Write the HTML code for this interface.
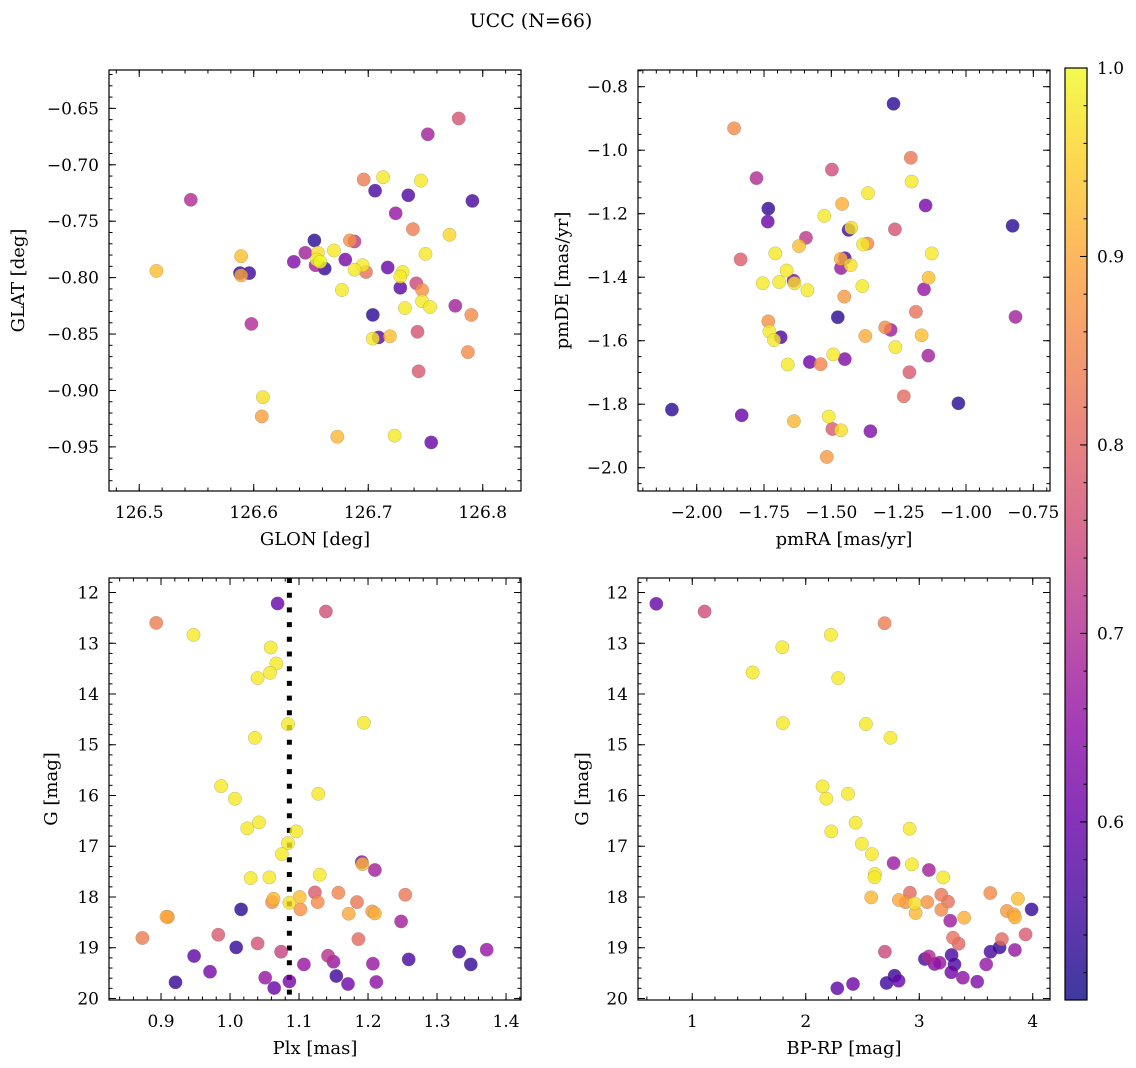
<!DOCTYPE html>
<html><head><meta charset="utf-8">
<style>
html,body{margin:0;padding:0;background:#fff;}
svg{display:block;font-family:"DejaVu Serif","Liberation Serif",serif;}
</style></head>
<body>
<svg id="fig" width="1136" height="1068" viewBox="0 0 1136 1068" xmlns="http://www.w3.org/2000/svg">
<text x="531" y="27" font-size="19" text-anchor="middle">UCC (N=66)</text>
</svg>
<script>
// ---------- Panel 1: GLON vs GLAT ----------
const p1GLON=[126.779,126.752,126.696,126.713,126.746,126.706,126.735,126.791,126.545,126.724,126.739,126.771,126.653,126.684,126.688,126.645,126.656,126.670,126.750,126.589,126.635,126.680,126.654,126.662,126.655,126.658,126.695,126.688,126.698,126.717,126.730,126.728,126.515,126.588,126.596,126.589,126.742,126.747,126.728,126.677,126.747,126.732,126.754,126.776,126.790,126.704,126.598,126.743,126.709,126.704,126.719,126.787,126.744,126.608,126.607,126.673,126.723,126.755];
const p1GLAT=[-0.659,-0.673,-0.713,-0.711,-0.714,-0.723,-0.727,-0.732,-0.731,-0.743,-0.757,-0.762,-0.767,-0.767,-0.768,-0.778,-0.778,-0.776,-0.779,-0.781,-0.786,-0.784,-0.789,-0.792,-0.784,-0.786,-0.789,-0.793,-0.795,-0.791,-0.795,-0.799,-0.794,-0.796,-0.796,-0.798,-0.805,-0.811,-0.809,-0.811,-0.821,-0.827,-0.826,-0.825,-0.833,-0.833,-0.841,-0.848,-0.853,-0.854,-0.852,-0.866,-0.883,-0.906,-0.923,-0.941,-0.940,-0.946];
const p1Prob=[0.77,0.68,0.84,0.98,0.98,0.56,0.57,0.56,0.70,0.66,0.84,0.96,0.53,0.87,0.72,0.68,0.97,0.98,0.98,0.93,0.63,0.62,0.68,0.54,0.99,1.0,0.98,0.98,0.82,0.60,0.98,0.98,0.93,0.53,0.55,0.90,0.75,0.87,0.58,0.98,0.98,0.98,0.98,0.68,0.86,0.53,0.70,0.77,0.58,0.98,0.93,0.86,0.78,0.97,0.89,0.92,0.98,0.60];
const p1XTicks=[126.5,126.6,126.7,126.8];
const p1XTickLabels=["126.5","126.6","126.7","126.8"];
const p1YTicks=[-0.65,-0.70,-0.75,-0.80,-0.85,-0.90,-0.95];
const p1YTickLabels=["\u22120.65","\u22120.70","\u22120.75","\u22120.80","\u22120.85","\u22120.90","\u22120.95"];

// ---------- Panel 2: pmRA vs pmDE ----------
const p2pmRA=[-1.269,-1.861,-1.205,-1.498,-1.778,-1.202,-1.364,-1.460,-1.150,-1.734,-1.526,-1.736,-0.827,-1.436,-1.426,-1.264,-1.594,-1.620,-1.366,-1.382,-1.127,-1.708,-1.837,-1.450,-1.465,-1.464,-1.428,-1.666,-1.139,-1.755,-1.694,-1.640,-1.637,-1.589,-1.385,-1.156,-1.452,-1.186,-0.816,-1.476,-1.734,-1.280,-1.300,-1.730,-1.688,-1.713,-1.374,-1.165,-1.262,-1.493,-1.450,-1.140,-1.580,-1.540,-1.662,-1.210,-1.231,-1.028,-2.092,-1.833,-1.510,-1.639,-1.496,-1.464,-1.355,-1.517];
const p2pmDE=[-0.854,-0.931,-1.024,-1.061,-1.088,-1.099,-1.135,-1.169,-1.174,-1.184,-1.207,-1.225,-1.238,-1.251,-1.244,-1.249,-1.276,-1.302,-1.294,-1.297,-1.325,-1.325,-1.344,-1.340,-1.342,-1.371,-1.362,-1.379,-1.402,-1.419,-1.415,-1.411,-1.419,-1.441,-1.428,-1.438,-1.461,-1.509,-1.525,-1.526,-1.539,-1.566,-1.558,-1.571,-1.589,-1.598,-1.585,-1.583,-1.620,-1.643,-1.658,-1.647,-1.667,-1.674,-1.675,-1.699,-1.775,-1.797,-1.817,-1.835,-1.839,-1.853,-1.878,-1.882,-1.885,-1.966];
const p2Prob=[0.53,0.86,0.83,0.76,0.70,0.98,0.98,0.91,0.62,0.54,0.98,0.60,0.53,0.55,0.97,0.77,0.72,0.93,0.85,0.98,0.98,0.98,0.79,0.57,0.91,0.66,0.97,0.98,0.93,0.98,0.98,0.62,0.97,0.98,0.98,0.66,0.88,0.82,0.68,0.53,0.87,0.67,0.86,0.98,0.57,0.98,0.91,0.93,0.98,0.98,0.63,0.68,0.61,0.85,0.98,0.78,0.81,0.53,0.53,0.60,0.98,0.92,0.78,0.97,0.63,0.88];
const p2XTicks=[-2.0,-1.75,-1.5,-1.25,-1.0,-0.75];
const p2XTickLabels=["\u22122.00","\u22121.75","\u22121.50","\u22121.25","\u22121.00","\u22120.75"];
const p2YTicks=[-0.8,-1.0,-1.2,-1.4,-1.6,-1.8,-2.0];
const p2YTickLabels=["\u22120.8","\u22121.0","\u22121.2","\u22121.4","\u22121.6","\u22121.8","\u22122.0"];

// ---------- Panel 3: Plx vs G ----------
const p3Plx=[1.069,1.139,0.893,0.947,1.059,1.067,1.058,1.040,1.084,1.194,1.036,0.987,1.007,1.128,1.042,1.025,1.096,1.084,1.075,1.191,1.192,1.210,1.030,1.057,1.130,1.123,1.157,1.254,1.101,1.063,1.061,1.086,1.127,1.184,1.102,1.172,1.206,1.210,0.908,0.910,1.016,1.248,0.873,0.983,1.040,1.186,1.009,1.074,1.142,1.150,0.948,1.107,1.207,1.259,1.332,1.349,1.372,0.971,1.051,1.154,0.921,1.086,1.171,1.212,1.064];
const p3G=[12.217,12.374,12.598,12.834,13.083,13.399,13.582,13.687,14.594,14.567,14.863,15.815,16.064,15.966,16.531,16.649,16.708,16.938,17.154,17.312,17.351,17.469,17.627,17.614,17.561,17.909,17.916,17.955,18.001,18.034,18.100,18.113,18.100,18.100,18.244,18.330,18.284,18.323,18.389,18.395,18.244,18.481,18.809,18.743,18.914,18.829,18.993,19.078,19.157,19.275,19.163,19.328,19.315,19.229,19.078,19.328,19.039,19.472,19.590,19.557,19.682,19.663,19.715,19.676,19.794];
const p3Prob=[0.60,0.76,0.84,0.98,0.98,0.98,0.98,0.98,0.98,0.98,0.98,0.98,0.98,0.98,0.98,0.98,0.98,0.98,0.98,0.63,0.92,0.68,0.98,0.98,0.98,0.78,0.85,0.83,0.93,0.92,0.86,0.97,0.86,0.83,0.87,0.90,0.88,0.91,0.90,0.89,0.53,0.68,0.84,0.78,0.77,0.81,0.54,0.74,0.71,0.66,0.59,0.66,0.66,0.56,0.56,0.54,0.66,0.62,0.66,0.55,0.54,0.62,0.61,0.65,0.60];
const p3PlxMedian=1.086;
const p3XTicks=[0.9,1.0,1.1,1.2,1.3,1.4];
const p3XTickLabels=["0.9","1.0","1.1","1.2","1.3","1.4"];
const gTicks=[12,13,14,15,16,17,18,19,20];
const gTickLabels=["12","13","14","15","16","17","18","19","20"];

// ---------- Panel 4: BP-RP vs G ----------
const p4BPRP=[0.683,1.109,2.695,2.222,1.793,1.532,2.286,1.799,2.530,2.747,2.148,2.181,2.372,2.439,2.225,2.915,2.495,2.583,2.774,2.935,3.085,2.609,2.606,3.211,2.577,2.918,2.821,2.880,2.959,3.070,3.194,3.253,3.626,3.869,2.968,3.194,3.396,3.772,3.834,3.843,3.990,3.273,3.297,3.347,3.728,3.937,2.697,3.628,3.708,3.843,3.050,3.085,3.179,3.135,3.285,3.311,3.282,3.385,3.511,3.590,2.783,2.818,2.712,2.416,2.278];
const p4G=[12.223,12.374,12.604,12.834,13.077,13.576,13.687,14.574,14.594,14.863,15.821,16.064,15.966,16.537,16.708,16.655,16.951,17.154,17.332,17.358,17.469,17.548,17.614,17.614,18.008,17.916,18.060,18.100,18.126,18.100,17.955,18.093,17.922,18.034,18.316,18.251,18.408,18.277,18.343,18.402,18.244,18.468,18.802,18.921,18.829,18.737,19.078,19.078,18.993,19.045,19.222,19.170,19.295,19.321,19.144,19.328,19.485,19.590,19.669,19.328,19.551,19.649,19.695,19.715,19.800];
const p4Prob=[0.60,0.76,0.84,0.98,0.98,0.98,0.98,0.98,0.98,0.98,0.98,0.98,0.98,0.98,0.98,0.98,0.98,0.98,0.67,0.98,0.68,0.98,0.98,0.98,0.92,0.81,0.90,0.87,0.97,0.87,0.83,0.82,0.86,0.93,0.92,0.86,0.91,0.88,0.90,0.91,0.54,0.67,0.82,0.80,0.81,0.78,0.75,0.56,0.54,0.66,0.56,0.70,0.66,0.64,0.56,0.56,0.61,0.65,0.63,0.66,0.54,0.60,0.55,0.61,0.59];
const p4XTicks=[1,2,3,4];
const p4XTickLabels=["1","2","3","4"];

// ---------- Colorbar ----------
const cbTicks=[0.6,0.7,0.8,0.9,1.0];
const cbTickLabels=["0.6","0.7","0.8","0.9","1.0"];
const cbMin=0.5055, cbMax=1.0;

const NS="http://www.w3.org/2000/svg";
const svg=document.getElementById('fig');
const TICKFS=17, TITLEFS=18;
function mk(tag,attrs,parent){const e=document.createElementNS(NS,tag);for(const k in attrs)e.setAttribute(k,attrs[k]);(parent||svg).appendChild(e);return e;}
function lin(d0,d1,r0,r1){return v=>r0+(v-d0)/(d1-d0)*(r1-r0);}
const plasma=[[13,8,135],[65,4,157],[106,0,168],[143,13,164],[177,42,144],[204,71,120],[225,100,98],[242,132,75],[252,166,54],[252,206,37],[240,249,33]];
function cmap(p){let t=(p-cbMin)/(cbMax-cbMin);t=Math.max(0,Math.min(1,t))*10;const i=Math.min(9,Math.floor(t)),f=t-i;const a=plasma[i],b=plasma[i+1];return 'rgb('+a.map((c,k)=>Math.round(c+(b[k]-c)*f)).join(',')+')';}
function range(a,b,s){const r=[];for(let v=a;v<=b+1e-9;v+=s)r.push(+v.toFixed(6));return r;}

function panel(cfg){
  const g=mk('g',{});
  
  
  const b=cfg.box;
  const sx=lin(cfg.xlim[0],cfg.xlim[1],b.x0,b.x1);
  const sy=lin(cfg.ylim[0],cfg.ylim[1],b.y1,b.y0);
  const clipId=cfg.name+'-clip';
  const cp=mk('clipPath',{id:clipId},g);
  mk('rect',{x:b.x0,y:b.y0,width:b.x1-b.x0,height:b.y1-b.y0},cp);
  const pts=mk('g',{'clip-path':'url(#'+clipId+')'},g);
  
  
  if(cfg.vline!==undefined){
    const l=mk('line',{x1:sx(cfg.vline),x2:sx(cfg.vline),y1:b.y0,y2:b.y1,stroke:'#000','stroke-width':5,'stroke-dasharray':'5 9.7'},pts);
    
    
  }
  const idx=cfg.xs.map((_,i)=>i).sort((a,c)=>cfg.ps[a]-cfg.ps[c]);
  idx.forEach(i=>{
    const c=mk('circle',{cx:sx(cfg.xs[i]).toFixed(1),cy:sy(cfg.ys[i]).toFixed(1),r:6.7,fill:cmap(cfg.ps[i]),'fill-opacity':0.8,stroke:'#777','stroke-width':0.4,'stroke-opacity':0.6},pts);
    
    
  });
  const fr=mk('rect',{x:b.x0,y:b.y0,width:b.x1-b.x0,height:b.y1-b.y0,fill:'none',stroke:'#000','stroke-width':1.2},g);
  
  
  const tk=mk('g',{stroke:'#000','stroke-width':1},g);
  
  
  const inX=v=>{const x=sx(v);return x>=b.x0-0.5&&x<=b.x1+0.5;};
  const inY=v=>{const y=sy(v);return y>=b.y0-0.5&&y<=b.y1+0.5;};
  cfg.xminor.filter(inX).forEach(v=>{const x=sx(v);mk('line',{x1:x,x2:x,y1:b.y1,y2:b.y1-3.5},tk);mk('line',{x1:x,x2:x,y1:b.y0,y2:b.y0+3.5},tk);});
  cfg.yminor.filter(inY).forEach(v=>{const y=sy(v);mk('line',{x1:b.x0,x2:b.x0+3.5,y1:y,y2:y},tk);mk('line',{x1:b.x1,x2:b.x1-3.5,y1:y,y2:y},tk);});
  cfg.xticks.forEach((v,i)=>{const x=sx(v);mk('line',{x1:x,x2:x,y1:b.y1,y2:b.y1-7},tk);mk('line',{x1:x,x2:x,y1:b.y0,y2:b.y0+7},tk);
    const t=mk('text',{x:x,y:b.y1+27,'font-size':TICKFS,'text-anchor':'middle'},g);t.textContent=cfg.xlabels[i];
    
    });
  cfg.yticks.forEach((v,i)=>{const y=sy(v);mk('line',{x1:b.x0,x2:b.x0+7,y1:y,y2:y},tk);mk('line',{x1:b.x1,x2:b.x1-7,y1:y,y2:y},tk);
    const t=mk('text',{x:b.x0-10,y:y+6,'font-size':TICKFS,'text-anchor':'end'},g);t.textContent=cfg.ylabels[i];
    
    });
  const xt=mk('text',{x:(b.x0+b.x1)/2,y:b.y1+54,'font-size':TITLEFS,'text-anchor':'middle'},g);xt.textContent=cfg.xtitle;
  
  
  const yt=mk('text',{x:cfg.ytx,y:(b.y0+b.y1)/2,'font-size':TITLEFS,'text-anchor':'middle',transform:'rotate(-90 '+cfg.ytx+' '+((b.y0+b.y1)/2)+')'},g);yt.textContent=cfg.ytitle;
  
  
}

panel({name:'glon-glat-panel',box:{x0:109,x1:521,y0:70,y1:491},xlim:[126.4736,126.8334],ylim:[-0.9891,-0.6160],
  xs:p1GLON,ys:p1GLAT,ps:p1Prob,xticks:p1XTicks,xlabels:p1XTickLabels,yticks:p1YTicks,ylabels:p1YTickLabels,
  xminor:range(126.46,126.84,0.02),yminor:range(-0.99,-0.61,0.01),xtitle:'GLON [deg]',ytitle:'GLAT [deg]',ytx:24});
panel({name:'pm-panel',box:{x0:638,x1:1050,y0:70,y1:491},xlim:[-2.218,-0.688],ylim:[-2.0733,-0.7474],
  xs:p2pmRA,ys:p2pmDE,ps:p2Prob,xticks:p2XTicks,xlabels:p2XTickLabels,yticks:p2YTicks,ylabels:p2YTickLabels,
  xminor:range(-2.25,-0.65,0.05),yminor:range(-2.1,-0.7,0.05),xtitle:'pmRA [mas/yr]',ytitle:'pmDE [mas/yr]',ytx:568});
panel({name:'plx-g-panel',box:{x0:109,x1:521,y0:578,y1:1000},xlim:[0.8246,1.4217],ylim:[20.03,11.714],
  xs:p3Plx,ys:p3G,ps:p3Prob,xticks:p3XTicks,xlabels:p3XTickLabels,yticks:gTicks,ylabels:gTickLabels,vline:p3PlxMedian,
  xminor:range(0.82,1.44,0.02),yminor:range(11.6,20.2,0.2),xtitle:'Plx [mas]',ytitle:'G [mag]',ytx:57});
panel({name:'cmd-panel',box:{x0:638,x1:1050,y0:578,y1:1000},xlim:[0.522,4.152],ylim:[20.03,11.714],
  xs:p4BPRP,ys:p4G,ps:p4Prob,xticks:p4XTicks,xlabels:p4XTickLabels,yticks:gTicks,ylabels:gTickLabels,
  xminor:range(0.6,4.2,0.2),yminor:range(11.6,20.2,0.2),xtitle:'BP-RP [mag]',ytitle:'G [mag]',ytx:588});

(function(){
  const x0=1065,x1=1087,y0=68,y1=1000;
  const g=mk('g',{});
  
  
  const defs=mk('defs',{},g);
  const lg=mk('linearGradient',{id:'cbgrad',x1:0,y1:1,x2:0,y2:0},defs);
  plasma.forEach((c,i)=>mk('stop',{offset:(i/10),'stop-color':'rgb('+c.join(',')+')'},lg));
  mk('rect',{x:x0,y:y0,width:x1-x0,height:y1-y0,fill:'url(#cbgrad)','fill-opacity':0.8},g);
  mk('rect',{x:x0,y:y0,width:x1-x0,height:y1-y0,fill:'none',stroke:'#000','stroke-width':1.2},g);
  const sy=lin(cbMin,cbMax,y1,y0);
  range(0.52,1.0,0.02).forEach(v=>{const y=sy(v);mk('line',{x1:x1,x2:x1-3.5,y1:y,y2:y,stroke:'#000','stroke-width':1},g);});
  cbTicks.forEach((v,i)=>{const y=sy(v);mk('line',{x1:x1,x2:x1-7,y1:y,y2:y,stroke:'#000','stroke-width':1},g);
    const t=mk('text',{x:x1+10,y:y+6,'font-size':TICKFS},g);t.textContent=cbTickLabels[i];
    
    });
})();
</script>
</body></html>
